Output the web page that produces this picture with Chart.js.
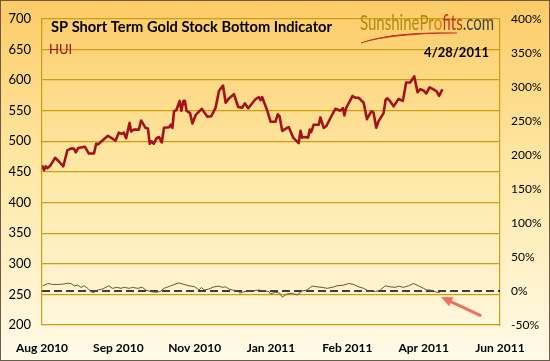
<!DOCTYPE html>
<html><head><meta charset="utf-8">
<script src="https://cdn.jsdelivr.net/npm/chart.js@4"></script>
<style>html,body{margin:0;padding:0;background:#fff}#wrap{width:550px;height:361px;position:relative}</style>
</head><body><div id="wrap"><canvas id="c" width="550" height="361"></canvas></div>
<script>
const xTickLabels = ['Aug 2010','Sep 2010','Nov 2010','Jan 2011','Feb 2011','Apr 2011','Jun 2011'];
const leftTicks = [200,250,300,350,400,450,500,550,600,650,700];
const rightTicks = [-50,0,50,100,150,200,250,300,350,400];
const titleText = 'SP Short Term Gold Stock Bottom Indicator';
const seriesName = 'HUI';
const dateText = '4/28/2011';
// days since start of axis (Aug 2010)
const huiDays = [0,1.3,2.5,3.5,5.8,8.7,11.3,14.2,16.9,19.1,21.3,22.5,24.2,28.7,31.3,34.7,36.2,37.5,40.2,44,49.1,51.3,53.1,54.7,56.2,58.5,59.5,61.3,64.7,66.2,69.1,70.7,72,73.1,74.7,76.5,78.2,80,81.5,84.9,86,87.1,88.2,89.8,92,93.1,94.5,95.5,96.5,98.9,100.5,102.7,106.7,110.5,113.1,116,118.2,120.9,122.7,124.9,128.2,131.1,133.8,135.5,137.8,142.7,144.9,146,147.1,150.5,152.7,156,157.5,158.7,160.5,163.8,164.9,167.8,171.5,172.7,173.8,175.5,177.8,178.9,179.8,181.5,184.9,186,188.2,190,192.7,196,199.3,201.1,202,203.3,207.5,209.3,211.5,214.9,217.1,220,221.5,223.3,224.9,228.2,229.6,230.8,232.7,234.9,238.2,241.1,243.3,246,248.7,250.9,252.7,254.9,256.7,258.9,261.5,263.8,265.3,267.5];
const huiValues = [461,453,459,456,461,473,467,459,485,488,488,482,489,491,480,480,496,495,501,509,501,514,512,514,505,530,516,519,519,534,522,521,496,500,496,505,507,498,522,523,527,522,549,551,566,550,566,566,550,546,529,543,553,540,541,555,582,591,563,570,577,556,555,562,554,569,572,567,572,550,532,532,544,541,517,522,523,506,497,517,506,507,506,519,515,527,527,539,522,525,538,553,550,554,542,555,574,571,571,563,536,549,547,522,533,546,568,570,565,557,569,566,596,596,606,580,585,583,578,588,585,581,574,585];
const indDays = [0.5,3.8,7.1,10.5,13.8,17.1,19.3,21.5,23.8,26,28.2,30.5,32.7,34.5,37.1,40.5,44.5,47.1,50,52.7,54.9,58.2,60.5,63.8,67.1,69.3,72.7,76,78.9,81.5,86,91.5,94.9,98.2,102,104.9,106.5,108.2,111.5,114.9,118.2,120.5,122.7,124.9,127.1,130.5,132.2,134.9,138.2,141.5,144.9,148.2,151.5,152.7,156,158.9,160.5,163.8,167.1,170.5,173.8,177.1,180.5,183.8,187.1,190.5,193.8,197.1,201.5,204.9,208.2,211.5,214.9,218.2,222.7,226,229.3,232.7,236,238.2,241.5,244.9,248.2,251.5,254.9,257.1,259.3,261.5,263.8,266];
const indValues = [7.6,11.0,9.6,9.6,10.0,11.4,11.0,7.6,8.6,5.3,7.6,3.9,-1.0,-2.4,1.4,2.9,7.6,3.9,5.3,3.9,5.3,3.9,5.3,3.9,5.3,1.4,-1.0,-1.9,-1.0,3.9,7.6,11.9,9.6,7.6,6.1,1.4,5.3,1.4,2.9,6.1,7.1,5.3,6.1,2.9,1.4,0.4,-3.3,-1.0,0,0.4,1.4,0.4,-1.0,-4.3,-1.9,-3.3,-9.0,-4.3,-3.3,-5.7,0,1.4,7.1,6.1,5.3,3.9,5.3,7.6,8.6,11.0,9.6,6.1,3.9,0,-1.0,1.4,7.6,6.1,5.3,7.1,5.3,7.6,11.0,7.6,3.9,1.4,1.4,0,-1.9,-1.9];
const thresholdDays = [0,306];
const thresholdValues = [0,0];
const arrowFrom = {x:292.7, y:-36};
const arrowTo = {x:266.7, y:-9};

const GOLD = '#CF9D12';
const FONT = 'Lato, "Open Sans", sans-serif';

const bgPlugin = {
  id:'bg',
  beforeDraw(chart){
    const {ctx,width,height} = chart;
    const g = ctx.createLinearGradient(0,0,0,height);
    g.addColorStop(0,'#FCCB66');
    g.addColorStop(0.45,'#FEE7A3');
    g.addColorStop(1,'#FFFBE9');
    ctx.save();ctx.fillStyle=g;ctx.fillRect(0,0,width,height);ctx.restore();
  },
  afterDatasetsDraw(chart){
    const {ctx} = chart;
    const xs = chart.scales.x, ys = chart.scales.y1;
    const x1 = xs.getPixelForValue(arrowFrom.x), y1 = ys.getPixelForValue(arrowFrom.y);
    const x2 = xs.getPixelForValue(arrowTo.x), y2 = ys.getPixelForValue(arrowTo.y);
    const ang = Math.atan2(y2-y1,x2-x1);
    ctx.save();
    ctx.strokeStyle='#F0705E';ctx.fillStyle='#F0705E';ctx.lineWidth=3;ctx.lineCap='round';
    const hl=11;
    ctx.beginPath();ctx.moveTo(x1,y1);ctx.lineTo(x2-Math.cos(ang)*hl*0.8,y2-Math.sin(ang)*hl*0.8);ctx.stroke();
    ctx.beginPath();
    ctx.moveTo(x2,y2);
    ctx.lineTo(x2-hl*Math.cos(ang)+5*Math.sin(ang), y2-hl*Math.sin(ang)-5*Math.cos(ang));
    ctx.lineTo(x2-hl*Math.cos(ang)-5*Math.sin(ang), y2-hl*Math.sin(ang)+5*Math.cos(ang));
    ctx.closePath();ctx.fill();
    ctx.restore();
  },
  afterDraw(chart){
    const {ctx,width,height} = chart;
    ctx.save();
    // title
    ctx.fillStyle='#000';
    ctx.textBaseline='middle';ctx.textAlign='left';
    ctx.font='bold 15px '+FONT;
    let w = ctx.measureText(titleText).width;
    let fs = 15*281/w;
    ctx.font='bold '+fs.toFixed(2)+'px '+FONT;
    ctx.fillText(titleText,51,27);
    // HUI
    ctx.fillStyle='#A50E0E';ctx.font='13px '+FONT;
    ctx.fillText(seriesName,49,50);
    // date
    ctx.fillStyle='#000';ctx.font='bold 13px '+FONT;ctx.textAlign='right';
    ctx.fillText(dateText,489,53);
    // logo
    ctx.textAlign='left';
    const parts=[['Sunshine','#B08A12'],['Pr','#B08A12'],['o','#E07E08'],['fits','#C0341E'],['.com','#444444']];
    ctx.font='21px '+FONT;
    let tw=0; parts.forEach(p=>tw+=ctx.measureText(p[0]).width);
    const sx=134/tw;
    ctx.translate(360,23);ctx.scale(sx,1);
    let cx=0;
    parts.forEach(p=>{ctx.fillStyle=p[1];ctx.fillText(p[0],cx,0);cx+=ctx.measureText(p[0]).width;});
    ctx.setTransform(1,0,0,1,0,0);
    ctx.fillStyle='#C8341E';
    ctx.beginPath();ctx.moveTo(361,43);ctx.quadraticCurveTo(392,31,457,33);ctx.quadraticCurveTo(392,34,361,43);ctx.closePath();ctx.fill();
    ctx.strokeStyle='#C8341E';ctx.lineWidth=1;
    ctx.beginPath();ctx.moveTo(361,43);ctx.quadraticCurveTo(392,32,457,33);ctx.stroke();
    // outer border
    ctx.strokeStyle='#6B5A48';ctx.lineWidth=1;
    ctx.strokeRect(0.5,0.5,width-1,height-1);
    ctx.restore();
  }
};

const hui = huiDays.map((d,i)=>({x:d,y:huiValues[i]}));
const ind = indDays.map((d,i)=>({x:d,y:indValues[i]}));
const thr = thresholdDays.map((d,i)=>({x:d,y:thresholdValues[i]}));

new Chart(document.getElementById('c'),{
  type:'line',
  data:{datasets:[
    {data:ind,yAxisID:'y1',borderColor:'#6E5232',borderWidth:1,pointRadius:0,tension:0},
    {data:thr,yAxisID:'y1',borderColor:'#000',borderWidth:1.6,borderDash:[8,4],pointRadius:0},
    {data:hui,yAxisID:'y',borderColor:'#A3111B',borderWidth:2.6,pointRadius:0,tension:0,borderJoinStyle:'round'}
  ]},
  plugins:[bgPlugin],
  options:{
    responsive:false,animation:false,devicePixelRatio:1,
    layout:{padding:{top:8,left:0,right:0,bottom:0}},
    plugins:{legend:{display:false},tooltip:{enabled:false}},
    scales:{
      x:{type:'linear',min:0,max:306,
        afterFit(s){s.height=36;},
        afterBuildTicks(s){s.ticks=xTickLabels.map((l,i)=>({value:i*51}));},
        grid:{display:false,drawTicks:false},border:{display:false},
        ticks:{autoSkip:false,maxRotation:0,padding:16,color:'#000',font:{family:FONT,size:12,weight:'bold'},
          callback:(v)=>xTickLabels[Math.round(v/51)]}},
      y:{min:200,max:700,position:'left',
        afterFit(s){s.width=41;},
        afterBuildTicks(s){s.ticks=leftTicks.map(v=>({value:v}));},
        grid:{color:GOLD,lineWidth:1.2,drawTicks:false},border:{color:GOLD,width:1.2},
        ticks:{padding:11,color:'#000',font:{family:FONT,size:13}}},
      y1:{min:-50,max:400,position:'right',
        afterFit(s){s.width=50;},
        afterBuildTicks(s){s.ticks=rightTicks.map(v=>({value:v}));},
        grid:{display:false,drawTicks:false},border:{color:GOLD,width:1.2},
        ticks:{padding:11,color:'#000',font:{family:FONT,size:12},callback:(v)=>v+'%'}}
    }
  }
});
</script></body></html>
